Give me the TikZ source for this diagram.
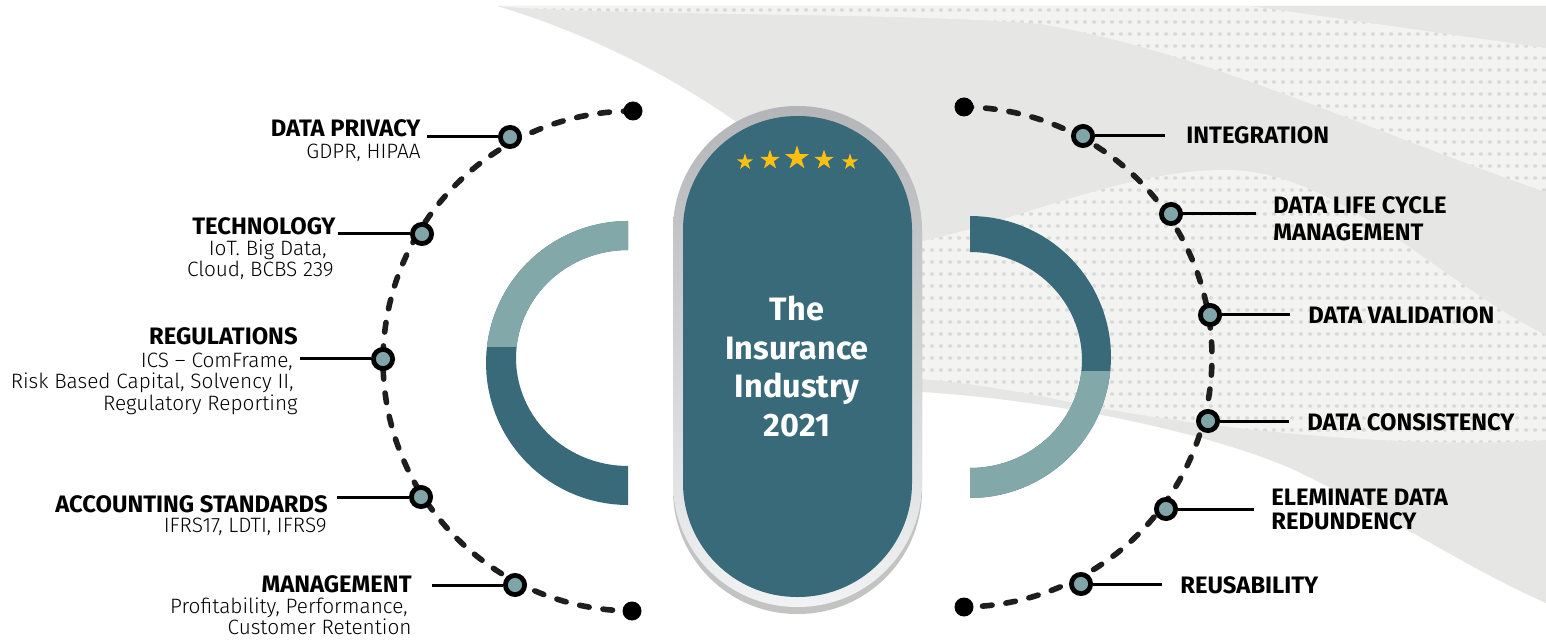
\documentclass[tikz,border=0pt]{standalone}
\usepackage{fontspec}
\setmainfont{Fira Sans}
\newfontfamily\lightf{Fira Sans Light}
\usetikzlibrary{shapes.geometric}
\definecolor{capteal}{HTML}{386A79}
\definecolor{ltteal}{HTML}{83A8AA}
\definecolor{hubfill}{HTML}{7FA5A8}
\definecolor{inkc}{HTML}{1E1E1E}
\definecolor{bggray}{HTML}{E6E6E5}
\definecolor{bglight}{HTML}{F3F3F2}
\definecolor{bgdot}{HTML}{DADAD8}
\definecolor{capedgeA}{HTML}{B4B5B8}
\definecolor{capedgeB}{HTML}{F1F2F3}
\definecolor{capshadow}{HTML}{C3C3C1}
\definecolor{stargold}{HTML}{FBC012}
\def\toppath{(497,6) -- (1250,6) -- (1546,48) -- (1546,192) .. controls (1380,135) and (1200,50) .. (1040,24) .. controls (900,12) and (600,16) .. (497,6) -- cycle}
\def\midpath{(900,245) .. controls (1000,230) and (1120,168) .. (1230,170) .. controls (1340,172) and (1450,290) .. (1546,335) -- (1546,440) .. controls (1420,450) and (1200,430) .. (1060,400) .. controls (1000,388) and (950,380) .. (900,378) -- cycle}
\begin{document}
\begin{tikzpicture}[x=0.5pt,y=-0.5pt,
  arcline/.style={draw=inkc, line width=2.8pt, line cap=round, dash pattern=on 4.8pt off 7pt},
  enddot/.style={circle, fill=black, inner sep=0pt, minimum size=9.5pt},
  hub/.style={circle, draw=black, line width=2.4pt, fill=hubfill, inner sep=0pt, minimum size=9.6pt},
  conn/.style={draw=black, line width=1.5pt},
  lhead/.style={font=\fontsize{11.9}{13}\selectfont\bfseries, inner sep=0pt, anchor=base east},
  lsub/.style={font=\lightf\fontsize{10.4}{12}\selectfont, inner sep=0pt, anchor=base east},
  rlab/.style={font=\fontsize{11.9}{13.5}\selectfont\bfseries, inner sep=0pt, anchor=base west},
  gstar/.style={star, star points=5, star point ratio=2.618, fill=stargold, inner sep=0pt},
  ttl/.style={font=\fontsize{16.2}{19.2}\selectfont\bfseries, text=white, align=center, anchor=north, inner sep=0pt}]
\useasboundingbox (0,0) rectangle (1546,641);
\fill[white] (0,0) rectangle (1546,641);
% background
\fill[bggray] (497,6) -- (1546,6) -- (1546,603) .. controls (1470,570) and (1380,510) .. (1290,468) .. controls (1200,430) and (1050,400) .. (922,392) -- (800,392) -- (800,200) -- (745,128) .. controls (650,60) and (560,25) .. (497,6) -- cycle;
\fill[bglight] \toppath;
\fill[bglight] \midpath;
\begin{scope}
  \clip \toppath \midpath;
  \foreach \yy in {10,22,...,446} {
    \fill[bgdot] \foreach \xx in {500,509,...,1546} {(\xx,\yy) ellipse[x radius=1.1pt, y radius=0.9pt]};
  }
\end{scope}
% half rings
\fill[capteal] plot[domain=90:270,samples=60] ({628+142*cos(\x)},{363-142*sin(\x)}) -- plot[domain=270:90,samples=60] ({628+112*cos(\x)},{358-108*sin(\x)}) -- cycle;
\begin{scope}
  \clip (400,0) rectangle (640,347);
  \fill[ltteal] plot[domain=90:270,samples=60] ({628+142*cos(\x)},{363-142*sin(\x)}) -- plot[domain=270:90,samples=60] ({628+112*cos(\x)},{358-108*sin(\x)}) -- cycle;
\end{scope}
\fill[capteal] plot[domain=90:-90,samples=60] ({970+141*cos(\x)},{357-141*sin(\x)}) -- plot[domain=-90:90,samples=60] ({970+112*cos(\x)},{360-108*sin(\x)}) -- cycle;
\begin{scope}
  \clip (960,372) rectangle (1200,641);
  \fill[ltteal] plot[domain=90:-90,samples=60] ({970+141*cos(\x)},{357-141*sin(\x)}) -- plot[domain=-90:90,samples=60] ({970+112*cos(\x)},{360-108*sin(\x)}) -- cycle;
\end{scope}
% capsule
\fill[capshadow, rounded corners=62pt] (673,114) rectangle (922,614);
\shade[top color=capedgeA, bottom color=capedgeB, rounded corners=62pt] (673,106) rectangle (922,607);
\fill[capteal, rounded corners=57pt] (683,116) rectangle (912,597);
% stars
\node[gstar, minimum size=8.6pt] (st1) at (745,162) {};
\node[gstar, minimum size=10.4pt] (st2) at (770,160) {};
\node[gstar, minimum size=12.6pt] (st3) at (797,158) {};
\node[gstar, minimum size=10.4pt] (st4) at (824,160) {};
\node[gstar, minimum size=8.6pt] (st5) at (850,162) {};
\node[ttl] (title) at (797,296) {The\\Insurance\\Industry\\2021};
% dashed arcs
\draw[arcline] plot[domain=90:270,samples=90] ({633+250*cos(\x)},{361-250*sin(\x)});
\draw[arcline] plot[domain=90:-90,samples=90] ({962+250*cos(\x)},{357-250*sin(\x)});
\node[enddot] (le1) at (633,111) {};
\node[enddot] (le2) at (632,611) {};
\node[enddot] (re1) at (964,107) {};
\node[enddot] (re2) at (964,607) {};
% connector ends
\coordinate (dpL) at (427,137);
\coordinate (teL) at (338,234);
\coordinate (reL) at (300,359);
\coordinate (acL) at (337,497);
\coordinate (mgL) at (432,585);
\coordinate (inR) at (1165,136);
\coordinate (dlR) at (1256,214);
\coordinate (dvR) at (1290,315);
\coordinate (dcR) at (1289,421);
\coordinate (elR) at (1254,509);
\coordinate (ruR) at (1162,584);
% hubs
\node[hub] (dp) at (510,137) {};
\node[hub] (te) at (422,234) {};
\node[hub] (re) at (383,359) {};
\node[hub] (ac) at (421,497) {};
\node[hub] (mg) at (515,585) {};
\node[hub] (in) at (1083,136) {};
\node[hub] (dl) at (1171,214) {};
\node[hub] (dv) at (1210,315) {};
\node[hub] (dc) at (1208,421) {};
\node[hub] (el) at (1166,509) {};
\node[hub] (ru) at (1081,584) {};
\draw[conn] (dp) -- (dpL);
\draw[conn] (te) -- (teL);
\draw[conn] (re) -- (reL);
\draw[conn] (ac) -- (acL);
\draw[conn] (mg) -- (mgL);
\draw[conn] (in) -- (inR);
\draw[conn] (dl) -- (dlR);
\draw[conn] (dv) -- (dvR);
\draw[conn] (dc) -- (dcR);
\draw[conn] (el) -- (elR);
\draw[conn] (ru) -- (ruR);
% left labels
\node[lhead] (dph) at (421,137) {DATA PRIVACY};
\node[lsub] (dps) at (421,159) {GDPR, HIPAA};
\node[lhead] (teh) at (336,235) {TECHNOLOGY};
\node[lsub] (tes1) at (327,256) {IoT. Big Data,};
\node[lsub] (tes2) at (334,277) {Cloud, BCBS 239};
\node[lhead] (reh) at (298,345) {REGULATIONS};
\node[lsub] (res1) at (293,367) {ICS – ComFrame,};
\node[lsub] (res2) at (294,388) {Risk Based Capital, Solvency II,};
\node[lsub] (res3) at (298,410) {Regulatory Reporting};
\node[lhead] (ach) at (328,512) {ACCOUNTING STANDARDS};
\node[lsub] (acs) at (327,532) {IFRS17, LDTI, IFRS9};
\node[lhead] (mgh) at (412,592) {MANAGEMENT};
\node[lsub] (mgs1) at (408,613) {Profitability, Performance,};
\node[lsub] (mgs2) at (412,634) {Customer Retention};
% right labels
\node[rlab] (inl) at (1186,144) {INTEGRATION};
\node[rlab] (dll1) at (1273,213.5) {DATA LIFE CYCLE};
\node[rlab] (dll2) at (1273,240.5) {MANAGEMENT};
\node[rlab] (dvl) at (1308,324) {DATA VALIDATION};
\node[rlab] (dcl) at (1307,430) {DATA CONSISTENCY};
\node[rlab] (ell1) at (1271,505.7) {ELEMINATE DATA};
\node[rlab] (ell2) at (1271,529) {REDUNDENCY};
\node[rlab] (rul) at (1180,593) {REUSABILITY};
\end{tikzpicture}
\end{document}
